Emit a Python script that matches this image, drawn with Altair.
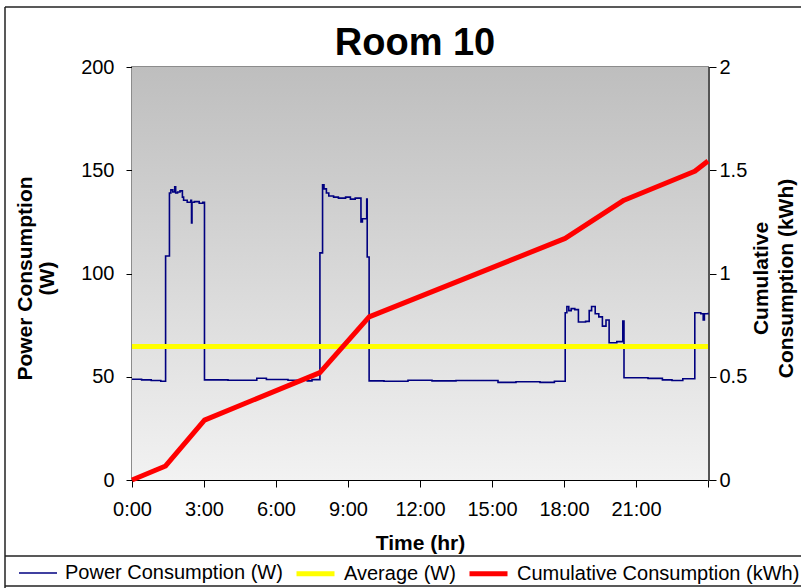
import altair as alt
import pandas as pd

FONT = "Liberation Sans"

# Power draw over the day: (hour, watts) breakpoints, drawn as a step line
hours = [
    0.00, 0.40, 0.80, 1.20, 1.40, 1.56, 1.62, 1.70, 1.78, 1.82, 1.90, 2.00,
    2.10, 2.15, 2.30, 2.45, 2.48, 2.50, 2.60, 2.80, 2.95, 3.02,
    4.00, 5.20, 5.60, 6.50, 7.30, 7.50, 7.83, 7.94, 8.00, 8.10, 8.20, 8.40,
    8.60, 8.90, 9.10, 9.30, 9.54, 9.60, 9.78, 9.80, 9.88,
    10.50, 11.50, 12.50, 13.50, 15.25, 16.00, 17.00, 17.60, 18.05,
    18.12, 18.20, 18.30, 18.45, 18.60, 18.90, 19.05, 19.15, 19.30, 19.45,
    19.60, 19.75, 19.88, 20.20, 20.45, 20.50,
    21.50, 22.10, 22.50, 22.95, 23.45, 23.70, 23.80, 23.85, 24.00,
]
watts = [
    48.8, 48.5, 48.2, 47.8, 108.5, 139.0, 140.5, 139.5, 142.0, 139.0, 139.5, 140.0,
    137.0, 135.5, 134.5, 135.5, 124.5, 134.5, 134.8, 134.0, 134.5, 48.5,
    48.3, 49.3, 48.7, 48.3, 48.0, 48.6, 110.0, 143.0, 141.0, 139.0, 137.5, 137.0,
    136.5, 137.0, 136.0, 136.5, 125.0, 126.5, 136.0, 108.0, 48.0,
    47.8, 48.3, 48.0, 48.2, 47.3, 47.6, 47.3, 47.8, 81.0,
    84.0, 82.0, 83.0, 82.5, 76.5, 76.8, 82.0, 84.0, 80.5, 79.0,
    74.5, 77.5, 66.5, 67.0, 77.0, 49.5,
    49.2, 48.5, 48.2, 49.0, 81.0, 80.5, 77.5, 80.5, 81.0,
]

# Running energy total (kWh)
cum_hours = [0.0, 1.40, 3.02, 7.83, 9.88, 18.05, 20.50, 23.45, 24.0]
cum_kwh = [0.0, 0.068, 0.29, 0.52, 0.79, 1.17, 1.355, 1.495, 1.545]

# Daily mean power (W)
avg_w = 64.7

series_names = ["Power Consumption (W)", "Average (W)", "Cumulative Consumption (kWh)"]
series_colors = ["#000080", "#FFFF00", "#FF0000"]
series_widths = [1.6, 5, 5]

x_ticks = [0, 3, 6, 9, 12, 15, 18, 21, 24]
left_ticks = [0, 50, 100, 150, 200]
right_ticks = [0, 0.5, 1, 1.5, 2]

power_df = pd.DataFrame({"hour": hours, "value": watts, "series": series_names[0]})
avg_df = pd.DataFrame({"hour": [0, 24], "value": [avg_w, avg_w], "series": series_names[1]})
cum_df = pd.DataFrame({"hour": cum_hours, "value": cum_kwh, "series": series_names[2]})

legend = alt.Legend(
    title=None, orient="none", direction="horizontal", legendX=-114, legendY=485,
    symbolType="stroke", symbolSize=1444, labelFont=FONT, labelFontSize=20,
    labelColor="black", labelOffset=7, columnPadding=3, padding=0, labelLimit=400,
)
color = alt.Color("series:N", scale=alt.Scale(domain=series_names, range=series_colors), legend=legend)
width_enc = alt.StrokeWidth(
    "series:N", scale=alt.Scale(type="ordinal", domain=series_names, range=series_widths), legend=legend
)

x_enc = alt.X(
    "hour:Q",
    scale=alt.Scale(domain=[0, 24], nice=False, zero=False),
    axis=alt.Axis(
        values=x_ticks, labelExpr="datum.value < 24 ? datum.value + ':00' : ''",
        title="Time (hr)", grid=False, tickSize=7, labelPadding=12, labelFlush=False,
        titleX=288, titleY=63, titleBaseline="middle",
    ),
)

y_left = alt.Y(
    "value:Q",
    scale=alt.Scale(domain=[0, 200], nice=False),
    axis=alt.Axis(
        values=left_ticks, title=["Power Consumption", "(W)"], grid=True,
        gridColor={"condition": {"test": "datum.value >= 200", "value": "#8c8c8c"}, "value": "black"},
        gridWidth={"condition": {"test": "datum.value >= 200", "value": 2}, "value": 1},
        tickSize=6, labelPadding=12, labelFlush=False, titleAngle=-90, titleX=-107, titleY=211,
        titleBaseline="middle", titleAlign="center", titleLineHeight=22,
    ),
)

y_right = alt.Y(
    "value:Q",
    scale=alt.Scale(domain=[0, 2], nice=False),
    axis=alt.Axis(
        orient="right", values=right_ticks, format="~g", title=["Cumulative", "Consumption (kWh)"],
        grid=False, tickSize=8, labelPadding=3, labelFlush=False, domainColor="#555555", domainWidth=3,
        titleAngle=-90, titleX=53, titleY=211, titleBaseline="middle", titleAlign="center",
        titleLineHeight=25,
    ),
)

# Plot-area background: grey-to-light vertical gradient
background = alt.Chart(alt.Data(values=[{}])).mark_rect(
    color=alt.LinearGradient(
        gradient="linear", x1=0, y1=0, x2=0, y2=1,
        stops=[alt.GradientStop(offset=0, color="#bebebe"), alt.GradientStop(offset=1, color="#f2f2f2")],
    )
).encode(x=alt.value(0), x2=alt.value(576), y=alt.value(0), y2=alt.value(413))

power = alt.Chart(power_df).mark_line(interpolate="step-after").encode(
    x=x_enc, y=y_left, color=color, strokeWidth=width_enc
)
average = alt.Chart(avg_df).mark_line().encode(x=x_enc, y=y_left, color=color, strokeWidth=width_enc)
cumulative = alt.Chart(cum_df).mark_line(strokeJoin="round").encode(
    x=x_enc, y=y_right, color=color, strokeWidth=width_enc
)

# Outer frame and legend box lines
frame = alt.Data(values=[{}])
rule_style = dict(color="#222222", strokeWidth=1.5)
frame_top = alt.Chart(frame).mark_rule(**rule_style).encode(
    x=alt.value(-127), x2=alt.value(680), y=alt.value(-60)
)
frame_left = alt.Chart(frame).mark_rule(**rule_style).encode(
    x=alt.value(-127), y=alt.value(-60), y2=alt.value(530)
)
legend_top = alt.Chart(frame).mark_rule(**rule_style).encode(
    x=alt.value(-127), x2=alt.value(680), y=alt.value(489)
)
legend_bottom = alt.Chart(frame).mark_rule(**rule_style).encode(
    x=alt.value(-127), x2=alt.value(680), y=alt.value(519)
)

chart = alt.layer(
    background, alt.layer(power, average), cumulative,
    frame_top, frame_left, legend_top, legend_bottom,
).resolve_scale(y="independent").properties(
    width=576, height=413,
    padding={"left": 132, "top": 67, "right": 93, "bottom": 108},
    autosize=alt.AutoSizeParams(type="none"),
    title=alt.TitleParams(
        "Room 10", font=FONT, fontSize=38, fontWeight="bold", color="black",
        anchor="middle", frame="group", baseline="alphabetic", offset=12, dy=99, dx=-5,
    ),
).configure_view(
    stroke="#8c8c8c", strokeWidth=2,
).configure_axis(
    labelFont=FONT, labelFontSize=20, labelColor="black",
    titleFont=FONT, titleFontSize=21, titleFontWeight="bold", titleColor="black",
    domainColor="black", domainWidth=1, tickColor="black", tickWidth=1,
)

chart.save("out.html", embed_options={"renderer": "svg", "actions": False})
